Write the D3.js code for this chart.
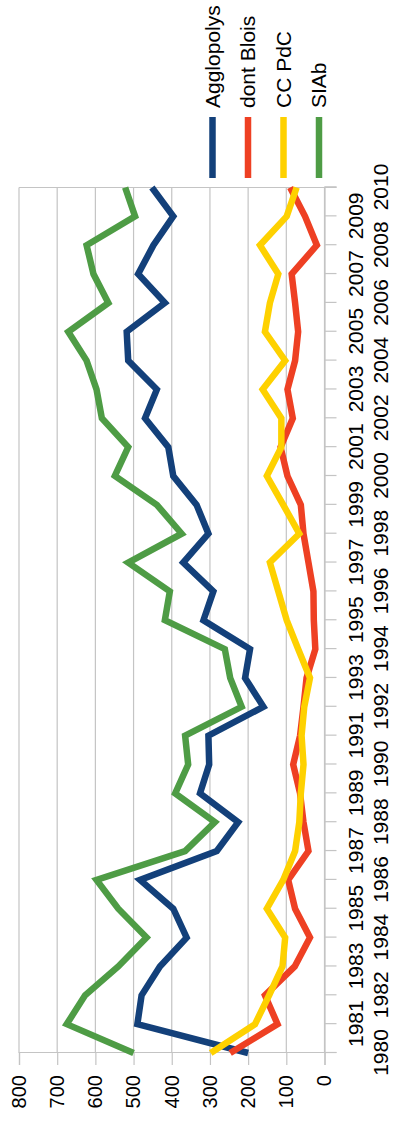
<!DOCTYPE html>
<html>
<head>
<meta charset="utf-8">
<script src="https://cdn.jsdelivr.net/npm/d3@7"></script>
<style>
  html, body { margin: 0; padding: 0; background: #fff; }
  svg { display: block; }
  text { font-family: "Liberation Sans", Arial, sans-serif; fill: #000; }
</style>
</head>
<body>
<svg id="chart" width="396" height="1122"></svg>
<script>
// Annual series, 1980–2010
const years = d3.range(1980, 2011);
const valueTicks = [0, 100, 200, 300, 400, 500, 600, 700, 800];

const agglopolys = [200, 490, 479, 431, 361, 396, 483, 282, 226, 326, 302, 304, 160, 208, 195, 317,
                    291, 370, 304, 335, 396, 409, 470, 439, 514, 518, 418, 488, 448, 396, 452];
const dontBlois  = [247, 123, 156, 78, 38, 77, 95, 42, 55, 64, 82, 64, 55, 47, 24, 28,
                    29, 42, 55, 62, 97, 115, 83, 97, 77, 69, 77, 86, 20, 51, 90];
const ccPdC      = [298, 182, 145, 110, 103, 151, 108, 77, 66, 62, 55, 60, 53, 38, 69, 99,
                    121, 143, 66, 108, 151, 113, 113, 162, 103, 156, 143, 121, 169, 99, 73];
const siab       = [500, 675, 627, 540, 466, 540, 597, 365, 287, 391, 357, 365, 217, 247, 261, 418,
                    405, 514, 374, 439, 549, 514, 583, 597, 623, 671, 566, 605, 623, 496, 522];

const seriesNames = ["Agglopolys", "dont Blois", "CC PdC", "SIAb"];
const seriesColors = ["#13407a", "#ee4023", "#fed100", "#4e9c45"];
const seriesValues = [agglopolys, dontBlois, ccPdC, siab];

// The chart is laid out landscape (1122 x 396) and turned a quarter turn
const W = 1122, H = 396;
const svg = d3.select("#chart");
const g = svg.append("g").attr("transform", `translate(0,${W}) rotate(-90)`);

const x = d3.scalePoint().domain(years).range([69, 934.5]);
const y = d3.scaleLinear().domain([0, 800]).range([324.5, 19]);

const gridColor = "#c4c4c4";

// Horizontal gridlines
g.append("g").selectAll("line").data(valueTicks).join("line")
  .attr("x1", x(1980)).attr("x2", x(2010))
  .attr("y1", d => y(d)).attr("y2", d => y(d))
  .attr("stroke", gridColor).attr("stroke-width", 1.2);

// Value axis (left)
const yAxis = d3.axisLeft(y).tickValues(valueTicks).tickSize(12).tickPadding(10);
const ya = g.append("g").attr("transform", `translate(${x(1980)},0)`).call(yAxis);
ya.select(".domain").attr("stroke", gridColor).attr("stroke-width", 1.2);
ya.selectAll(".tick line").attr("stroke", gridColor).attr("stroke-width", 1.2);
ya.selectAll(".tick text").attr("font-size", 20).attr("fill", "#000")
  .attr("font-family", "Liberation Sans, Arial, sans-serif");

// Right border of the plot
g.append("line")
  .attr("x1", x(2010)).attr("x2", x(2010))
  .attr("y1", y(800)).attr("y2", y(0) + 12)
  .attr("stroke", gridColor).attr("stroke-width", 1.2);

// Category axis (bottom), labels staggered on two rows
const xAxis = d3.axisBottom(x).tickSize(12).tickFormat(d => d);
const xa = g.append("g").attr("transform", `translate(0,${y(0)})`).call(xAxis);
xa.select(".domain").attr("stroke", gridColor).attr("stroke-width", 1.2);
xa.selectAll(".tick line").attr("stroke", gridColor).attr("stroke-width", 1.2);
xa.selectAll(".tick text")
  .attr("font-size", 21).attr("fill", "#000")
  .attr("font-family", "Liberation Sans, Arial, sans-serif")
  .attr("y", d => (d % 2 === 0 ? 56 : 31))
  .attr("dy", "0.35em");

// Series lines
const line = d3.line().x((d, i) => x(years[i])).y(d => y(d));
g.append("g").selectAll("path").data(seriesValues).join("path")
  .attr("d", line)
  .attr("fill", "none")
  .attr("stroke", (d, i) => seriesColors[i])
  .attr("stroke-width", 6.5)
  .attr("stroke-linejoin", "miter")
  .attr("stroke-linecap", "butt");

// Legend
const legendY = [212.5, 248, 283.5, 319];
const leg = g.append("g").selectAll("g").data(seriesNames).join("g")
  .attr("transform", (d, i) => `translate(0,${legendY[i]})`);
leg.append("line")
  .attr("x1", 944).attr("x2", 1005).attr("y1", 0).attr("y2", 0)
  .attr("stroke", (d, i) => seriesColors[i]).attr("stroke-width", 6.5);
leg.append("text")
  .attr("x", 1014).attr("y", 0).attr("dy", "0.35em")
  .attr("font-size", 21)
  .text(d => d);
</script>
</body>
</html>
